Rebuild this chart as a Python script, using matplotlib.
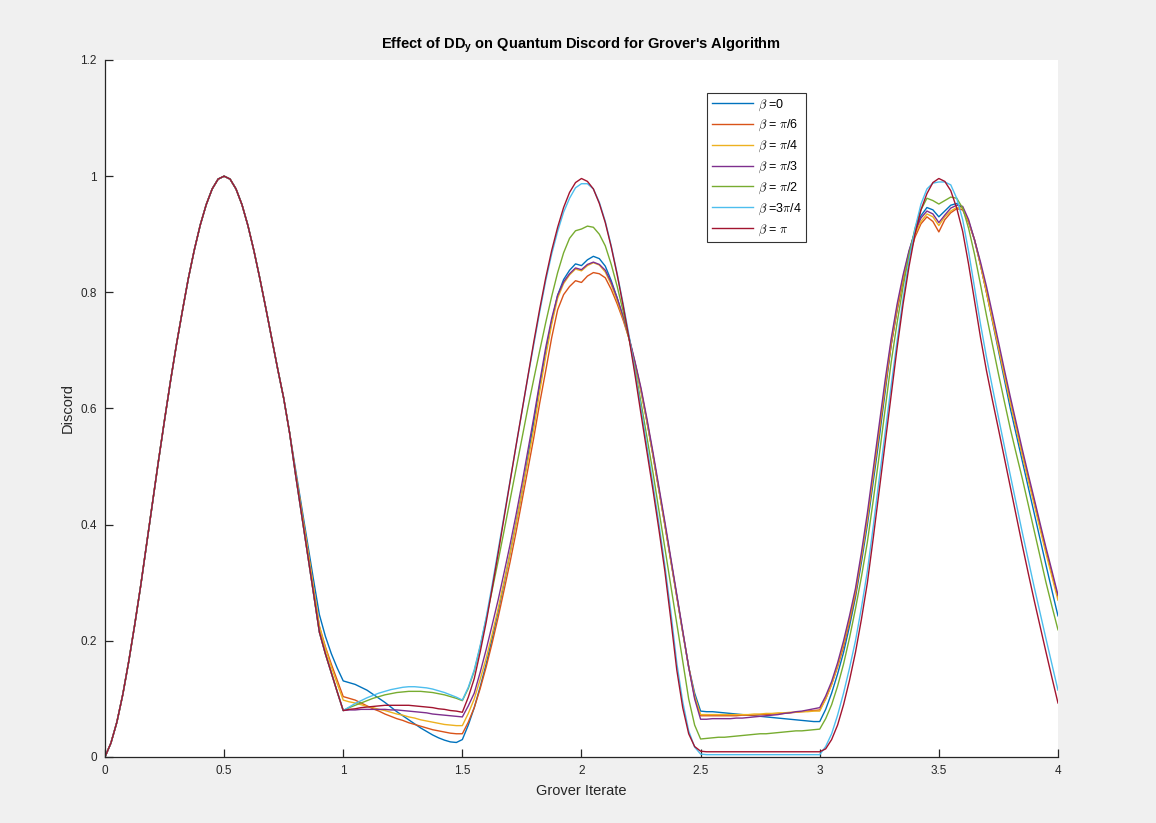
import numpy as np
import matplotlib
matplotlib.use("Agg")
import matplotlib.pyplot as plt
from matplotlib.ticker import FormatStrFormatter

plt.rcParams['font.family'] = ['Liberation Sans', 'DejaVu Sans']
plt.rcParams['mathtext.fontset'] = 'custom'
plt.rcParams['mathtext.rm'] = 'Liberation Sans'
plt.rcParams['mathtext.it'] = 'Liberation Sans:italic'
plt.rcParams['mathtext.bf'] = 'Liberation Sans:bold'

# Grover iterate, sampled every 0.025 from 0 to 4
iterate = np.round(np.arange(0, 4.0001, 0.025), 3)

# every beta gives the same first rise, 0 .. 0.775
head = [0.000, 0.024, 0.060, 0.108, 0.165, 0.228, 0.295, 0.367, 0.440, 0.511,
        0.580, 0.647, 0.710, 0.768, 0.824, 0.873, 0.916, 0.951, 0.978, 0.995,
        1.000, 0.995, 0.978, 0.951, 0.915, 0.872, 0.824, 0.773, 0.720, 0.668,
        0.618, 0.558]

# discord per beta from 0.800 to 4.000
beta_0 = head + [
    0.495, 0.432, 0.370, 0.306, 0.245, 0.208, 0.178, 0.153, 0.131,
    0.128, 0.125, 0.120, 0.115, 0.108, 0.101, 0.094, 0.086, 0.078, 0.071,
    0.064, 0.057, 0.050, 0.044, 0.038, 0.033, 0.029, 0.026, 0.025, 0.030,
    0.055, 0.085, 0.121, 0.160, 0.204, 0.250, 0.299, 0.350, 0.402, 0.455,
    0.515, 0.578, 0.640, 0.697, 0.750, 0.795, 0.822, 0.838, 0.849, 0.846,
    0.856, 0.862, 0.858, 0.845, 0.820, 0.790, 0.757, 0.720, 0.677, 0.630,
    0.577, 0.520, 0.460, 0.400, 0.338, 0.275, 0.215, 0.155, 0.110, 0.079,
    0.078, 0.078, 0.077, 0.076, 0.075, 0.074, 0.073, 0.072, 0.071, 0.070,
    0.069, 0.068, 0.067, 0.066, 0.065, 0.064, 0.063, 0.062, 0.061, 0.061,
    0.082, 0.110, 0.143, 0.180, 0.225, 0.275, 0.335, 0.400, 0.475, 0.550,
    0.630, 0.710, 0.770, 0.825, 0.870, 0.905, 0.932, 0.946, 0.942, 0.930,
    0.940, 0.950, 0.953, 0.945, 0.922, 0.890, 0.847, 0.800, 0.750, 0.700,
    0.650, 0.600, 0.555, 0.510, 0.465, 0.420, 0.375, 0.330, 0.286, 0.243]
beta_pi6 = head + [
    0.490, 0.425, 0.360, 0.292, 0.225, 0.190, 0.160, 0.132, 0.104,
    0.101, 0.098, 0.093, 0.088, 0.083, 0.079, 0.074, 0.070, 0.066, 0.063,
    0.059, 0.056, 0.053, 0.050, 0.047, 0.045, 0.043, 0.041, 0.040, 0.040,
    0.060, 0.085, 0.118, 0.155, 0.196, 0.240, 0.287, 0.335, 0.386, 0.440,
    0.495, 0.550, 0.610, 0.665, 0.722, 0.770, 0.796, 0.810, 0.820, 0.817,
    0.828, 0.834, 0.832, 0.825, 0.805, 0.780, 0.752, 0.720, 0.678, 0.632,
    0.578, 0.520, 0.460, 0.400, 0.338, 0.275, 0.215, 0.155, 0.103, 0.071,
    0.071, 0.071, 0.071, 0.071, 0.071, 0.071, 0.072, 0.072, 0.072, 0.073,
    0.073, 0.074, 0.074, 0.075, 0.076, 0.077, 0.078, 0.079, 0.080, 0.081,
    0.100, 0.125, 0.155, 0.190, 0.233, 0.280, 0.343, 0.410, 0.485, 0.560,
    0.637, 0.710, 0.770, 0.820, 0.862, 0.895, 0.918, 0.930, 0.922, 0.904,
    0.925, 0.937, 0.944, 0.942, 0.920, 0.890, 0.847, 0.800, 0.753, 0.705,
    0.658, 0.612, 0.567, 0.522, 0.480, 0.440, 0.397, 0.355, 0.315, 0.275]
beta_pi4 = head + [
    0.490, 0.425, 0.360, 0.292, 0.225, 0.188, 0.155, 0.126, 0.098,
    0.095, 0.093, 0.090, 0.087, 0.085, 0.082, 0.080, 0.077, 0.074, 0.072,
    0.069, 0.067, 0.064, 0.062, 0.060, 0.058, 0.056, 0.055, 0.054, 0.054,
    0.075, 0.100, 0.134, 0.170, 0.211, 0.255, 0.302, 0.350, 0.401, 0.455,
    0.510, 0.565, 0.630, 0.690, 0.745, 0.790, 0.815, 0.830, 0.840, 0.837,
    0.846, 0.851, 0.847, 0.835, 0.813, 0.785, 0.755, 0.720, 0.677, 0.630,
    0.577, 0.520, 0.460, 0.400, 0.338, 0.275, 0.215, 0.155, 0.105, 0.073,
    0.073, 0.073, 0.073, 0.073, 0.073, 0.073, 0.073, 0.073, 0.074, 0.074,
    0.075, 0.075, 0.076, 0.076, 0.077, 0.077, 0.078, 0.078, 0.079, 0.079,
    0.100, 0.125, 0.157, 0.195, 0.238, 0.285, 0.345, 0.410, 0.487, 0.565,
    0.642, 0.715, 0.775, 0.825, 0.867, 0.900, 0.922, 0.935, 0.930, 0.915,
    0.930, 0.940, 0.946, 0.945, 0.922, 0.890, 0.847, 0.800, 0.752, 0.705,
    0.657, 0.610, 0.565, 0.520, 0.477, 0.435, 0.392, 0.350, 0.310, 0.270]
beta_pi3 = head + [
    0.486, 0.418, 0.350, 0.282, 0.215, 0.178, 0.145, 0.112, 0.080,
    0.081, 0.081, 0.082, 0.082, 0.082, 0.082, 0.082, 0.081, 0.081, 0.080,
    0.079, 0.078, 0.077, 0.076, 0.074, 0.073, 0.072, 0.071, 0.070, 0.069,
    0.088, 0.110, 0.146, 0.185, 0.227, 0.270, 0.317, 0.365, 0.416, 0.470,
    0.527, 0.585, 0.646, 0.705, 0.755, 0.795, 0.818, 0.832, 0.842, 0.839,
    0.848, 0.852, 0.848, 0.838, 0.817, 0.790, 0.758, 0.722, 0.680, 0.635,
    0.582, 0.525, 0.465, 0.405, 0.343, 0.280, 0.217, 0.155, 0.100, 0.065,
    0.065, 0.066, 0.066, 0.066, 0.066, 0.067, 0.067, 0.068, 0.069, 0.070,
    0.071, 0.072, 0.073, 0.075, 0.076, 0.078, 0.079, 0.081, 0.083, 0.085,
    0.105, 0.130, 0.162, 0.200, 0.243, 0.290, 0.352, 0.420, 0.497, 0.575,
    0.650, 0.720, 0.780, 0.830, 0.872, 0.905, 0.928, 0.940, 0.935, 0.920,
    0.933, 0.945, 0.950, 0.948, 0.925, 0.890, 0.852, 0.810, 0.763, 0.715,
    0.667, 0.620, 0.575, 0.530, 0.487, 0.445, 0.402, 0.360, 0.320, 0.279]
beta_pi2 = head + [
    0.486, 0.418, 0.350, 0.282, 0.215, 0.178, 0.145, 0.112, 0.080,
    0.085, 0.089, 0.093, 0.097, 0.101, 0.104, 0.107, 0.109, 0.111, 0.112,
    0.113, 0.113, 0.113, 0.112, 0.111, 0.109, 0.107, 0.104, 0.101, 0.097,
    0.118, 0.148, 0.190, 0.238, 0.287, 0.337, 0.389, 0.442, 0.496, 0.549,
    0.601, 0.651, 0.700, 0.748, 0.793, 0.834, 0.868, 0.893, 0.906, 0.909,
    0.914, 0.912, 0.900, 0.880, 0.848, 0.810, 0.767, 0.720, 0.667, 0.610,
    0.550, 0.490, 0.425, 0.360, 0.295, 0.230, 0.165, 0.100, 0.055, 0.031,
    0.032, 0.033, 0.034, 0.034, 0.035, 0.036, 0.037, 0.038, 0.039, 0.040,
    0.040, 0.041, 0.042, 0.043, 0.044, 0.045, 0.045, 0.046, 0.047, 0.048,
    0.066, 0.090, 0.122, 0.160, 0.205, 0.255, 0.310, 0.370, 0.443, 0.520,
    0.600, 0.680, 0.748, 0.810, 0.865, 0.910, 0.942, 0.962, 0.958, 0.952,
    0.958, 0.964, 0.962, 0.945, 0.910, 0.865, 0.813, 0.760, 0.710, 0.660,
    0.612, 0.565, 0.522, 0.480, 0.435, 0.390, 0.345, 0.300, 0.259, 0.219]
beta_3pi4 = head + [
    0.486, 0.418, 0.350, 0.282, 0.215, 0.178, 0.145, 0.112, 0.080,
    0.086, 0.092, 0.097, 0.102, 0.106, 0.110, 0.113, 0.116, 0.118, 0.120,
    0.121, 0.121, 0.120, 0.119, 0.117, 0.114, 0.111, 0.107, 0.103, 0.098,
    0.120, 0.150, 0.192, 0.240, 0.296, 0.355, 0.415, 0.475, 0.535, 0.595,
    0.654, 0.710, 0.767, 0.820, 0.866, 0.905, 0.938, 0.962, 0.980, 0.987,
    0.987, 0.978, 0.955, 0.922, 0.880, 0.832, 0.780, 0.725, 0.663, 0.600,
    0.535, 0.470, 0.402, 0.330, 0.250, 0.162, 0.095, 0.045, 0.017, 0.005,
    0.004, 0.004, 0.004, 0.004, 0.004, 0.004, 0.004, 0.004, 0.004, 0.004,
    0.004, 0.004, 0.004, 0.004, 0.004, 0.004, 0.004, 0.004, 0.004, 0.004,
    0.018, 0.040, 0.072, 0.110, 0.153, 0.200, 0.257, 0.320, 0.398, 0.480,
    0.560, 0.640, 0.717, 0.790, 0.855, 0.910, 0.952, 0.978, 0.988, 0.990,
    0.990, 0.985, 0.962, 0.925, 0.870, 0.808, 0.745, 0.688, 0.636, 0.585,
    0.535, 0.485, 0.436, 0.387, 0.340, 0.293, 0.248, 0.203, 0.159, 0.115]
beta_pi = head + [
    0.486, 0.418, 0.350, 0.282, 0.215, 0.178, 0.145, 0.112, 0.080,
    0.082, 0.083, 0.085, 0.086, 0.087, 0.088, 0.089, 0.089, 0.089, 0.089,
    0.089, 0.088, 0.087, 0.086, 0.085, 0.083, 0.082, 0.080, 0.079, 0.077,
    0.103, 0.135, 0.181, 0.232, 0.290, 0.350, 0.412, 0.475, 0.535, 0.595,
    0.656, 0.715, 0.772, 0.825, 0.872, 0.912, 0.946, 0.972, 0.989, 0.996,
    0.991, 0.978, 0.953, 0.920, 0.878, 0.830, 0.777, 0.720, 0.657, 0.590,
    0.525, 0.460, 0.392, 0.320, 0.237, 0.150, 0.085, 0.040, 0.018, 0.010,
    0.009, 0.009, 0.009, 0.009, 0.009, 0.009, 0.009, 0.009, 0.009, 0.009,
    0.009, 0.009, 0.009, 0.009, 0.009, 0.009, 0.009, 0.009, 0.009, 0.009,
    0.014, 0.030, 0.055, 0.090, 0.132, 0.180, 0.237, 0.300, 0.378, 0.460,
    0.543, 0.625, 0.705, 0.780, 0.845, 0.900, 0.942, 0.970, 0.989, 0.996,
    0.991, 0.975, 0.945, 0.905, 0.848, 0.785, 0.722, 0.665, 0.614, 0.565,
    0.515, 0.465, 0.415, 0.365, 0.317, 0.270, 0.225, 0.180, 0.136, 0.093]

series = [beta_0, beta_pi6, beta_pi4, beta_pi3, beta_pi2, beta_3pi4, beta_pi]
labels = [r'$\beta$ =0', r'$\beta$ = $\pi$/6', r'$\beta$ = $\pi$/4', r'$\beta$ = $\pi$/3',
          r'$\beta$ = $\pi$/2', r'$\beta$ =3$\pi$/4', r'$\beta$ = $\pi$']
colors = ['#0072BD', '#D95319', '#EDB120', '#7E2F8E', '#77AC30', '#4DBEEE', '#A2142F']

fig = plt.figure(figsize=(11.56, 8.23), dpi=100, facecolor='#f0f0f0')
ax = fig.add_axes([0.0908, 0.0802, 0.8244, 0.8469])
ax.set_facecolor('white')

for vals, lab, col in zip(series, labels, colors):
    ax.plot(iterate, vals, color=col, lw=1.0, label=lab)

ax.set_xlim(0, 4)
ax.set_ylim(0, 1.2)
ax.set_xticks(np.arange(0, 4.01, 0.5))
ax.set_yticks(np.arange(0, 1.21, 0.2))
ax.xaxis.set_major_formatter(FormatStrFormatter('%g'))
ax.yaxis.set_major_formatter(FormatStrFormatter('%g'))

for side in ['top', 'right']:
    ax.spines[side].set_visible(False)
for side in ['left', 'bottom']:
    ax.spines[side].set_color('#262626')
    ax.spines[side].set_linewidth(0.9)
ax.tick_params(direction='in', length=6, width=0.9, colors='#262626',
               labelsize=8.5, pad=6)

ax.set_xlabel('Grover Iterate', fontsize=10.5, color='#262626', labelpad=5)
ax.set_ylabel('Discord', fontsize=10.5, color='#262626', labelpad=4)
ax.set_title(r"Effect of DD$_\mathbf{y}$ on Quantum Discord for Grover's Algorithm",
             fontsize=10.5, fontweight='bold', color='black', pad=8)

leg = ax.legend(loc='upper left', bbox_to_anchor=(0.632, 0.953), borderaxespad=0,
                fontsize=9, frameon=True, fancybox=False, handlelength=3.3,
                handletextpad=0.4, labelspacing=0.44, borderpad=0.35)
leg.get_frame().set_edgecolor('black')
leg.get_frame().set_linewidth(0.8)
for t in leg.get_texts():
    t.set_math_fontfamily('cm')

fig.savefig('out.png', dpi=100, facecolor=fig.get_facecolor())
